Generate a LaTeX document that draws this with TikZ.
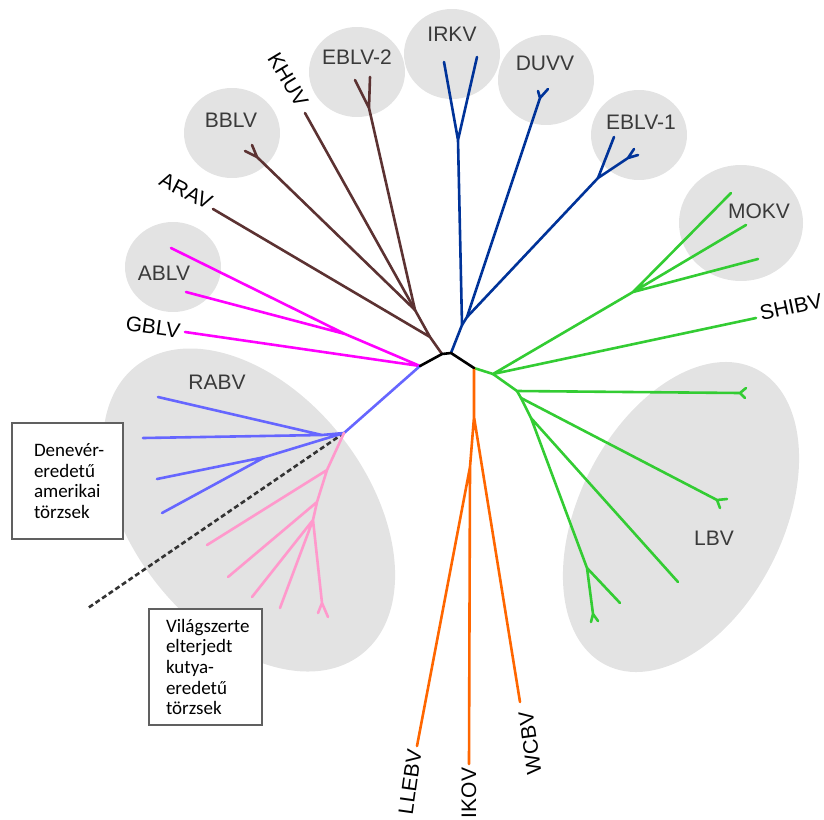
\documentclass[tikz,border=0pt]{standalone}
\usepackage{fontspec}
\setmainfont{Liberation Sans}
\newfontfamily\notefont{Carlito}
\colorlet{clade background color}{black!11}
\definecolor{cladecolor0}{HTML}{000000}
\definecolor{cladecolor1}{HTML}{5C3232}
\definecolor{cladecolor2}{HTML}{003399}
\definecolor{cladecolor3}{HTML}{33CC33}
\definecolor{cladecolor4}{HTML}{FF6600}
\definecolor{cladecolor5}{HTML}{FF00FF}
\definecolor{cladecolor6}{HTML}{6666FF}
\definecolor{cladecolor7}{HTML}{FF99CC}
\definecolor{label color}{HTML}{3A3A3A}
\definecolor{divider color}{HTML}{333333}
\definecolor{note frame color}{HTML}{606060}
\tikzset{
    x={1pt},
    y={-1pt},
    clade background/.style={
        fill=clade background color,
        draw=none,
    },
    branch/.style={
        draw={#1},
        line width={2.6pt},
        line join=round,
        line cap=round,
    },
    virus label/.style={
        font={\fontsize{21}{25}\selectfont},
        text=label color,
        inner sep=0pt,
    },
    tip label/.style={
        virus label,
        text=black,
        rotate={#1},
    },
    tip label/.default={0},
    divider/.style={
        draw=divider color,
        line width={2.6pt},
        dash pattern=on 5pt off 3pt,
    },
    note box/.style={
        draw=note frame color, fill=white,
        line width={1.2pt},
        font={\notefont\fontsize{19}{20.7}\selectfont},
        align=left,
        inner xsep={#1}, inner ysep=0pt,
        minimum height={116},
    },
}

\begin{document}
\begin{tikzpicture}
\useasboundingbox (0,0) rectangle (824,819);
% background
\path[clade background] (232,133) ellipse [x radius=48pt, y radius=45pt];
\path[clade background] (357,72) ellipse [x radius=48pt, y radius=45pt];
\path[clade background] (452,54) ellipse [x radius=48pt, y radius=45pt];
\path[clade background] (546,80) ellipse [x radius=48pt, y radius=45pt];
\path[clade background] (639,135) ellipse [x radius=48pt, y radius=45pt];
\path[clade background] (741,223) ellipse [x radius=62pt, y radius=58pt];
\path[clade background] (173,267) ellipse [x radius=48pt, y radius=45pt];
\path[clade background, rotate around={-52:(249,510)}] (249,510) ellipse [x radius=183pt, y radius=118pt];
\path[clade background, rotate around={63:(681,517)}] (681,517) ellipse [x radius=166pt, y radius=102pt];
% tree points
\coordinate (hub w) at (420,366);
\coordinate (hub nw) at (442,354);
\coordinate (hub ne) at (451,353);
\coordinate (hub e) at (474,368);
\coordinate (brown 1) at (430,337);
\coordinate (brown 2) at (415,310);
\coordinate (arav tip) at (213,209);
\coordinate (khuv tip) at (305,113);
\coordinate (bblv fork) at (257,157);
\coordinate (bblv tip a) at (245,151);
\coordinate (bblv tip b) at (252,145);
\coordinate (eblv2 fork) at (369,108);
\coordinate (eblv2 tip a) at (355,80);
\coordinate (eblv2 tip b) at (370,77);
\coordinate (blue 1) at (462,325);
\coordinate (blue 2) at (467,317);
\coordinate (irkv fork) at (458,140);
\coordinate (irkv tip a) at (444,62);
\coordinate (irkv tip b) at (477,57);
\coordinate (duvv fork) at (540,98);
\coordinate (duvv tip a) at (538,91);
\coordinate (duvv tip b) at (548,89);
\coordinate (eblv1 fork) at (598,178);
\coordinate (eblv1 tip a) at (614,137);
\coordinate (eblv1 fork b) at (628,158);
\coordinate (eblv1 tip b) at (634,149);
\coordinate (eblv1 tip c) at (638,155);
\coordinate (green 0) at (493,374);
\coordinate (shibv tip) at (756,318);
\coordinate (mokv fork) at (633,292);
\coordinate (mokv tip a) at (731,193);
\coordinate (mokv tip b) at (746,225);
\coordinate (mokv tip c) at (758,259);
\coordinate (green 1) at (517,391);
\coordinate (lbv fork a) at (740,393);
\coordinate (lbv tip a1) at (746,388);
\coordinate (lbv tip a2) at (745,398);
\coordinate (green 2) at (521,398);
\coordinate (lbv fork b) at (717,500);
\coordinate (lbv tip b1) at (727,499);
\coordinate (lbv tip b2) at (720,508);
\coordinate (green 3) at (531,418);
\coordinate (lbv tip c) at (678,582);
\coordinate (green 4) at (587,568);
\coordinate (lbv tip d) at (620,603);
\coordinate (lbv fork e) at (593,614);
\coordinate (lbv tip e1) at (591,622);
\coordinate (lbv tip e2) at (598,621);
\coordinate (orange 1) at (474,417);
\coordinate (orange 2) at (470,467);
\coordinate (wcbv tip) at (520,702);
\coordinate (ikov tip) at (469,764);
\coordinate (llebv tip) at (417,746);
\coordinate (magenta 1) at (345,334);
\coordinate (ablv tip a) at (171,248);
\coordinate (ablv tip b) at (186,292);
\coordinate (gblv tip) at (185,332);
\coordinate (rabv 0) at (344,433);
\coordinate (rabv 1) at (322,435);
\coordinate (rabv tip a) at (158,397);
\coordinate (rabv tip b) at (143,438);
\coordinate (rabv 2) at (265,457);
\coordinate (rabv tip c) at (157,479);
\coordinate (rabv tip d) at (162,513);
\coordinate (pink 1) at (327,470);
\coordinate (pink 2) at (317,502);
\coordinate (pink 3) at (313,520);
\coordinate (pink fork) at (322,603);
\coordinate (pink tip a) at (207,545);
\coordinate (pink tip b) at (228,577);
\coordinate (pink tip c) at (252,597);
\coordinate (pink tip d) at (280,608);
\coordinate (pink tip e) at (318,613);
\coordinate (pink tip f) at (328,617);
\coordinate (divider end) at (88,608);
% gene branches
\draw[divider] (rabv 0) -- (divider end);
\draw[branch={cladecolor1}] (hub nw) -- (brown 1) -- (arav tip) (brown 1) -- (brown 2) -- (khuv tip);
\draw[branch={cladecolor1}] (brown 2) -- (bblv fork) -- (bblv tip a) (bblv fork) -- (bblv tip b);
\draw[branch={cladecolor1}] (brown 2) -- (eblv2 fork) -- (eblv2 tip a) (eblv2 fork) -- (eblv2 tip b);
\draw[branch={cladecolor2}] (hub ne) -- (blue 1) -- (irkv fork) -- (irkv tip a) (irkv fork) -- (irkv tip b);
\draw[branch={cladecolor2}] (blue 1) -- (blue 2) -- (duvv fork) -- (duvv tip a) (duvv fork) -- (duvv tip b);
\draw[branch={cladecolor2}] (blue 2) -- (eblv1 fork) -- (eblv1 tip a) (eblv1 fork) -- (eblv1 fork b) -- (eblv1 tip b) (eblv1 fork b) -- (eblv1 tip c);
\draw[branch={cladecolor3}] (hub e) -- (green 0) -- (shibv tip) (green 0) -- (mokv fork) -- (mokv tip a) (mokv fork) -- (mokv tip b) (mokv fork) -- (mokv tip c);
\draw[branch={cladecolor3}] (green 0) -- (green 1) -- (lbv fork a) -- (lbv tip a1) (lbv fork a) -- (lbv tip a2);
\draw[branch={cladecolor3}] (green 1) -- (green 2) -- (lbv fork b) -- (lbv tip b1) (lbv fork b) -- (lbv tip b2);
\draw[branch={cladecolor3}] (green 2) -- (green 3) -- (lbv tip c) (green 3) -- (green 4) -- (lbv tip d) (green 4) -- (lbv fork e) -- (lbv tip e1) (lbv fork e) -- (lbv tip e2);
\draw[branch={cladecolor4}] (hub e) -- (orange 1) -- (wcbv tip) (orange 1) -- (orange 2) -- (ikov tip) (orange 2) -- (llebv tip);
\draw[branch={cladecolor5}] (hub w) -- (magenta 1) -- (ablv tip a) (magenta 1) -- (ablv tip b) (hub w) -- (gblv tip);
\draw[branch={cladecolor6}] (hub w) -- (rabv 0) -- (rabv 1) -- (rabv tip a) (rabv 1) -- (rabv tip b) (rabv 0) -- (rabv 2) -- (rabv tip c) (rabv 2) -- (rabv tip d);
\draw[branch={cladecolor7}] (rabv 0) -- (pink 1) -- (pink tip a) (pink 1) -- (pink 2) -- (pink tip b) (pink 2) -- (pink 3) -- (pink tip c) (pink 3) -- (pink tip d) (pink 3) -- (pink fork) -- (pink tip e) (pink fork) -- (pink tip f);
\draw[branch={cladecolor0}] (hub w) -- (hub nw) -- (hub ne) -- (hub e);
% labels
\node[virus label] (bblv label) at (231,120) {BBLV};
\node[virus label] (eblv2 label) at (357,57) {EBLV-2};
\node[virus label] (irkv label) at (452,34) {IRKV};
\node[virus label] (duvv label) at (545,63) {DUVV};
\node[virus label] (eblv1 label) at (641,122) {EBLV-1};
\node[virus label] (mokv label) at (759,211) {MOKV};
\node[virus label] (ablv label) at (164,273) {ABLV};
\node[virus label] (rabv label) at (217,382) {RABV};
\node[virus label] (lbv label) at (714,538) {LBV};
\node[tip label=-59] (khuv label) at (288,80) {KHUV};
\node[tip label=-27] (arav label) at (186,191) {ARAV};
\node[tip label=-8] (gblv label) at (153,327) {GBLV};
\node[tip label=12] (shibv label) at (791,307) {SHIBV};
\node[tip label=82] (llebv label) at (410,782) {LLEBV};
\node[tip label=90] (ikov label) at (469,793) {IKOV};
\node[tip label=98] (wcbv label) at (530,743) {WCBV};
% notes
\node[note box=22pt, text width=67pt] (bat note) at (67.5,481) {\mbox{Denevér-}\\eredetű\\amerikai\\törzsek};
\node[note box=17pt, text width=79pt] (dog note) at (205.5,667) {Világszerte\\elterjedt\\\mbox{kutya-}\\eredetű\\törzsek};
\end{tikzpicture}
\end{document}
